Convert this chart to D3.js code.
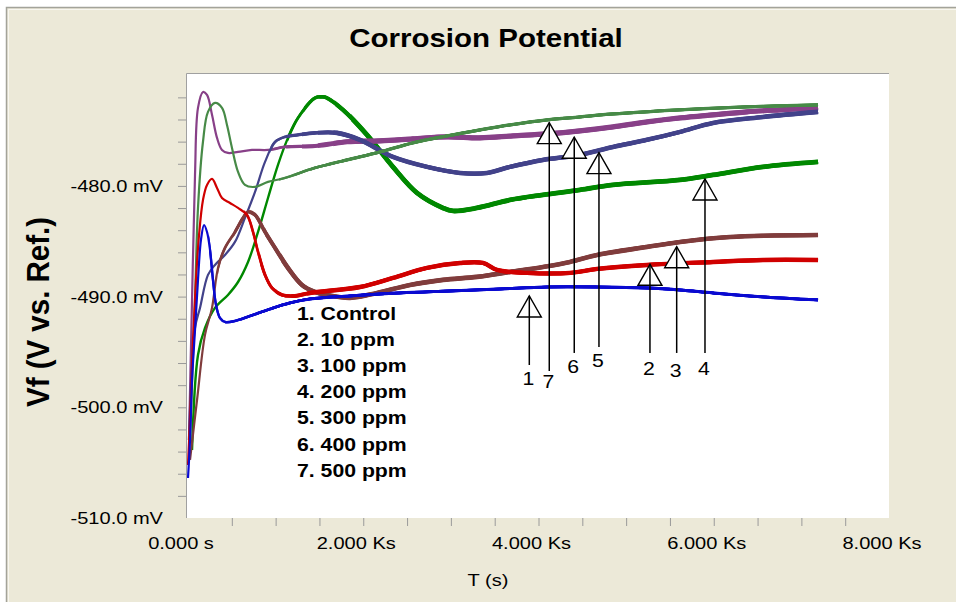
<!DOCTYPE html>
<html><head><meta charset="utf-8">
<script src="https://cdn.jsdelivr.net/npm/d3@7/dist/d3.min.js"></script>
<style>html,body{margin:0;padding:0;background:#fff;}svg{display:block}</style>
</head><body>
<svg id="chart" width="956" height="602"></svg>
<script>
// ---------- DATA ----------
const seriesLabels = ["1. Control","2. 10 ppm","3. 100 ppm","4. 200 ppm","5. 300 ppm","6. 400 ppm","7. 500 ppm"];

const tControl = [0,23,46,80,114,148,183,217,251,285,320,365,422,536,708,936,1164,1392,1849,2419,2990,3561,4097,4668,5238,5615,5991,6562,7190];
const vControl = [-506.39,-502.95,-497.53,-493.01,-488.49,-484.88,-483.53,-484.16,-485.78,-488.49,-490.75,-491.93,-492.29,-492.20,-491.75,-491.12,-490.57,-490.21,-489.94,-489.67,-489.49,-489.31,-489.13,-489.13,-489.22,-489.40,-489.67,-490.03,-490.30];

const t10 = [0,23,57,91,126,171,217,274,331,388,479,571,673,742,799,879,959,1073,1221,1392,1963,2339,2727,3104,3367,3526,3869,4359,4668,5238,5991,6562,7190];
const v10 = [-505.21,-501.14,-493.92,-488.49,-484.43,-481.27,-479.91,-479.37,-480.18,-481.09,-481.54,-481.99,-482.62,-484.16,-485.96,-488.04,-489.22,-489.85,-489.94,-489.67,-489.13,-488.31,-487.41,-486.96,-486.96,-487.59,-487.86,-487.86,-487.50,-487.14,-486.87,-486.69,-486.69];

const t100 = [23,103,194,274,342,422,536,628,685,765,879,993,1141,1301,1449,1586,1849,2157,2533,2910,3298,3675,4051,4359,4668,5238,5615,6185,7190];
const v100 = [-504.76,-499.34,-493.46,-491.02,-487.41,-485.60,-484.16,-482.89,-482.35,-482.62,-484.16,-485.60,-487.41,-488.95,-489.58,-489.85,-490.12,-489.67,-488.95,-488.49,-488.22,-487.77,-487.32,-486.87,-486.24,-485.51,-485.06,-484.61,-484.43];

const t200 = [46,114,194,308,456,571,685,799,913,1027,1141,1255,1449,1541,1586,1769,2043,2339,2613,2910,3024,3298,3675,4051,4474,4850,5615,5991,6562,7190];
const v200 = [-503.86,-495.27,-492.83,-491.02,-489.85,-488.68,-486.87,-484.16,-481.09,-478.10,-475.66,-473.86,-472.05,-471.96,-472.05,-473.13,-475.39,-478.28,-480.63,-481.99,-482.26,-481.99,-481.27,-480.81,-480.36,-479.91,-479.46,-479.01,-478.28,-477.83];

const t300 = [11,80,137,228,308,422,536,650,765,879,993,1107,1255,1449,1700,1963,2339,2727,3104,3412,3675,4051,4474,4850,5238,5615,5991,6562,7190];
const v300 = [-502.95,-492.83,-491.02,-488.04,-487.14,-486.24,-485.06,-482.89,-480.54,-477.83,-476.03,-475.57,-475.39,-475.21,-475.21,-475.84,-477.38,-478.28,-478.83,-478.83,-478.28,-477.65,-477.20,-476.48,-475.84,-475.12,-474.31,-473.77,-473.31];

const t400 = [11,46,80,114,171,217,274,331,388,456,571,730,913,1107,1449,1815,2191,2568,2956,3332,3709,4097,4474,4850,5238,5615,5991,6379,6756,7190];
const v400 = [-502.95,-490.30,-479.01,-472.95,-471.51,-471.78,-473.58,-475.66,-476.75,-477.02,-476.93,-476.75,-476.75,-476.48,-476.39,-476.01,-475.93,-475.75,-475.57,-475.66,-475.48,-475.30,-475.03,-474.67,-474.22,-473.86,-473.58,-473.31,-473.13,-472.95];

const t500 = [23,80,114,171,228,308,388,445,502,571,650,765,913,1107,1449,1815,2191,2568,2956,3332,3675,4097,4474,4850,5615,6379,7190];
const v500 = [-502.95,-490.30,-481.99,-476.01,-473.31,-472.50,-472.95,-474.49,-476.57,-478.74,-479.91,-480.09,-479.64,-479.28,-478.37,-477.65,-476.93,-476.11,-475.48,-474.94,-474.49,-474.04,-473.77,-473.50,-473.13,-472.86,-472.68];

const seriesColors = ["#0a0ad0","#d00000","#803c3c","#008800","#42428a","#884088","#478a47"];

// arrow annotations (numbers refer to legend entries)
const arrowLabels = ["1","7","6","5","2","3","4"];
const arrowT      = [3895,4123,4408,4690,5272,5577,5900];
const arrowTipV   = [-489.94,-474.28,-475.60,-476.99,-487.08,-485.49,-479.37];
const arrowTailV  = [-496.18,-496.72,-495.09,-494.55,-495.09,-495.09,-495.09];
const arrowTextV  = [-497.98,-498.25,-496.90,-496.36,-497.08,-497.26,-497.08];

const yTickValues = [-480,-490,-500,-510];
const yTickLabels = ["-480.0 mV","-490.0 mV","-500.0 mV","-510.0 mV"];
const xTickValues = [0,2000,4000,6000,8000];
const xTickLabels = ["0.000 s","2.000 Ks","4.000 Ks","6.000 Ks","8.000 Ks"];

// ---------- DRAW ----------
const FONT = "'Liberation Sans', Arial, sans-serif";
const SX = 1.18;
const svg = d3.select("#chart");

function sText(parent, x, y, str, o) {
  o = o || {};
  const t = parent.append("text")
    .attr("transform", `translate(${x},${y}) scale(${SX},1)` + (o.rotate ? ` rotate(${o.rotate})` : ""))
    .attr("font-family", FONT)
    .attr("font-size", o.size || 17)
    .attr("font-weight", o.weight || "normal")
    .attr("text-anchor", o.anchor || "start")
    .attr("fill", o.fill || "#000")
    .text(str);
  if (o.len) t.attr("textLength", o.len).attr("lengthAdjust", "spacingAndGlyphs");
  return t;
}

// background frame
svg.append("rect").attr("x",0).attr("y",0).attr("width",956).attr("height",602).attr("fill","#fff");
svg.append("rect").attr("x",6).attr("y",7).attr("width",950).attr("height",595).attr("fill","#ECE9D8");
svg.append("path").attr("d","M6.5,602V7.5H956").attr("fill","none").attr("stroke","#a3a39a").attr("stroke-width",1.5);
svg.append("path").attr("d","M8.5,602V9.5H956").attr("fill","none").attr("stroke","#f8f7f0").attr("stroke-width",1);

const x = d3.scaleLinear().domain([0,8000]).range([188,889]);
const y = d3.scaleLinear().domain([-510,-469.8]).range([518,73]);

// plot area
svg.append("rect").attr("x",187).attr("y",74).attr("width",702).attr("height",444).attr("fill","#fff");
svg.append("path").attr("d","M186.5,518V73.5H889").attr("fill","none").attr("stroke","#a0a0a0").attr("stroke-width",1);

// axes ticks
const yAxis = svg.append("g").attr("transform","translate(186,0)")
  .call(d3.axisLeft(y).tickValues(d3.range(-508,-471,2)).tickSize(8).tickFormat(""));
const xAxis = svg.append("g").attr("transform","translate(0,518)")
  .call(d3.axisBottom(x).tickValues(d3.range(500,8000,500)).tickSize(8).tickFormat(""));
[yAxis,xAxis].forEach(a => { a.select(".domain").remove(); a.selectAll("line").attr("stroke","#9a9a9a"); });

yTickValues.forEach((v,i) => sText(svg, 163, y(v)+6, yTickLabels[i], {anchor:"end", size:17}));
xTickValues.forEach((v,i) => sText(svg, x(v)-7, 549, xTickLabels[i], {anchor:"middle", size:17}));

// titles
sText(svg, 486, 47, "Corrosion Potential", {anchor:"middle", size:25, weight:"bold"});
sText(svg, 488, 586, "T (s)", {anchor:"middle", size:17});
sText(svg, 49, 312, "Vf (V vs. Ref.)", {anchor:"middle", size:26, weight:"bold", rotate:-90, len:190});

// curves
const defs = svg.append("defs");
defs.append("clipPath").attr("id","clip").append("rect").attr("x",187).attr("y",74).attr("width",702).attr("height",444);
const plot = svg.append("g").attr("clip-path","url(#clip)");
const allT = [tControl,t10,t100,t200,t300,t400,t500];
const allV = [vControl,v10,v100,v200,v300,v400,v500];
// thin early trace, gradually thicker noisy band around thickFrom (seconds)
const thinW  = [2.2,2.2,2.2,2.4,2.2,2.2,2.2];
const thickW = [3.0,4.4,4.6,4.8,4.6,5.2,3.2];
const thickFrom = [600,1000,700,1500,1300,1300,1400];
const STEPS = 5;
const line = d3.line().x(d => x(d[0])).y(d => y(d[1])).curve(d3.curveCatmullRom.alpha(0.5));
[3,5,4,6,2,1,0].forEach(i => {
  const pts = allT[i].map((t,j) => [t, allV[i][j]]);
  const sg = plot.append("g");
  sg.append("path").datum(pts).attr("d", line)
    .attr("fill","none").attr("stroke", seriesColors[i])
    .attr("stroke-width", thinW[i]).attr("stroke-linejoin","round");
  for (let k = 1; k <= STEPS; k++) {
    const start = thickFrom[i] + (k - (STEPS+1)/2) * 180;
    const w = thinW[i] + (thickW[i] - thinW[i]) * k / STEPS;
    const cid = `thick${i}_${k}`;
    defs.append("clipPath").attr("id",cid).append("rect")
      .attr("x", x(start)).attr("y",74).attr("width", 889 - x(start)).attr("height",444);
    sg.append("g").attr("clip-path",`url(#${cid})`).append("path").datum(pts).attr("d", line)
      .attr("fill","none").attr("stroke", seriesColors[i])
      .attr("stroke-width", w).attr("stroke-linejoin","round");
  }
});

// legend text
seriesLabels.forEach((s,i) => sText(svg, 297, 320 + i*26.1, s, {size:18, weight:"bold"}));

// arrows
const ag = svg.append("g");
arrowLabels.forEach((lab,i) => {
  const ax = x(arrowT[i]), tip = y(arrowTipV[i]), tail = y(arrowTailV[i]);
  ag.append("path").attr("d", `M${ax},${tip}L${ax-12},${tip+21}L${ax+12},${tip+21}Z`)
    .attr("fill","#fff").attr("stroke","#000").attr("stroke-width",1.4).attr("stroke-linejoin","miter");
  ag.append("line").attr("x1",ax).attr("x2",ax).attr("y1",tip).attr("y2",tail)
    .attr("stroke","#000").attr("stroke-width",1.5);
  sText(ag, ax-1, y(arrowTextV[i]), lab, {anchor:"middle", size:18});
});
</script>
</body></html>
